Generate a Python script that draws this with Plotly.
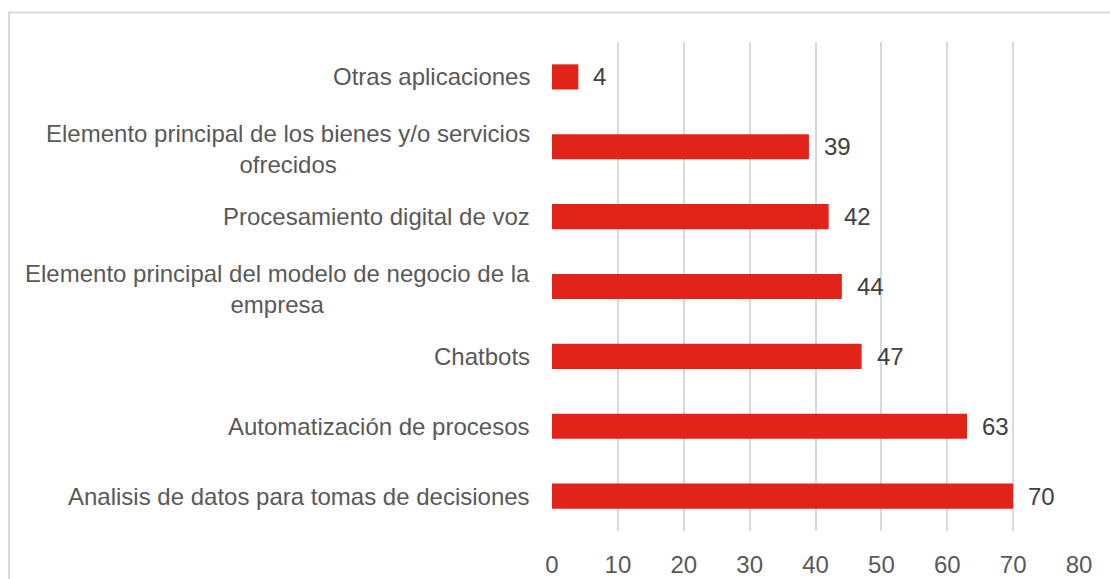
import plotly.graph_objects as go

categories = [
    "Analisis de datos para tomas de decisiones",
    "Automatización de procesos",
    "Chatbots",
    "Elemento principal del modelo de negocio de la<br>empresa",
    "Procesamiento digital de voz",
    "Elemento principal de los bienes y/o servicios<br>ofrecidos",
    "Otras aplicaciones",
]
values = [70, 63, 47, 44, 42, 39, 4]
x_ticks = [0, 10, 20, 30, 40, 50, 60, 70, 80]

W, H = 1110, 579
L, R, T, B = 552, 1079, 42, 531
FONT = "Liberation Sans, Arial, sans-serif"
BAR = "#E2231A"
GRID = "#D9D9D9"

fig = go.Figure()
fig.add_trace(go.Bar(
    x=values, y=list(range(len(categories))), orientation="h",
    marker=dict(color=BAR, line=dict(width=0)),
    width=0.36, hoverinfo="skip",
))

anns = []
for i, (c, v) in enumerate(zip(categories, values)):
    anns.append(dict(x=0, xref="paper", y=i, yref="y", text=c, showarrow=False,
                     xanchor="right", yanchor="middle", align="center", xshift=-20,
                     yshift=-2 if "<br>" in c else 0,
                     font=dict(family=FONT, size=24, color="#595959")))
    anns.append(dict(x=v, xref="x", y=i, yref="y", text=str(v), showarrow=False,
                     xanchor="left", yanchor="middle", xshift=13,
                     font=dict(family=FONT, size=24, color="#404040")))

pw = R - L
ph = B - T
shapes = [dict(type="rect", xref="paper", yref="paper",
               x0=(9 - L) / pw, x1=(1125 - L) / pw,
               y0=(B - 600) / ph, y1=(B - 12.5) / ph,
               line=dict(color=GRID, width=2), fillcolor="rgba(0,0,0,0)", layer="below")]

fig.update_layout(
    width=W, height=H,
    margin=dict(l=L, r=W - R, t=T, b=H - B, pad=0, autoexpand=False),
    paper_bgcolor="white", plot_bgcolor="white",
    showlegend=False,
    annotations=anns, shapes=shapes,
    xaxis=dict(range=[0, 80], tickvals=x_ticks, showgrid=True, gridcolor=GRID, gridwidth=2,
               zeroline=False, showline=False, ticks="", ticklabelstandoff=17, automargin=False,
               tickfont=dict(family=FONT, size=24, color="#595959"), fixedrange=True),
    yaxis=dict(range=[-0.5, len(categories) - 0.5], showticklabels=False, showgrid=False,
               zeroline=False, showline=False, ticks="", automargin=False, fixedrange=True),
    font=dict(family=FONT),
)
fig.write_html("out.html")
